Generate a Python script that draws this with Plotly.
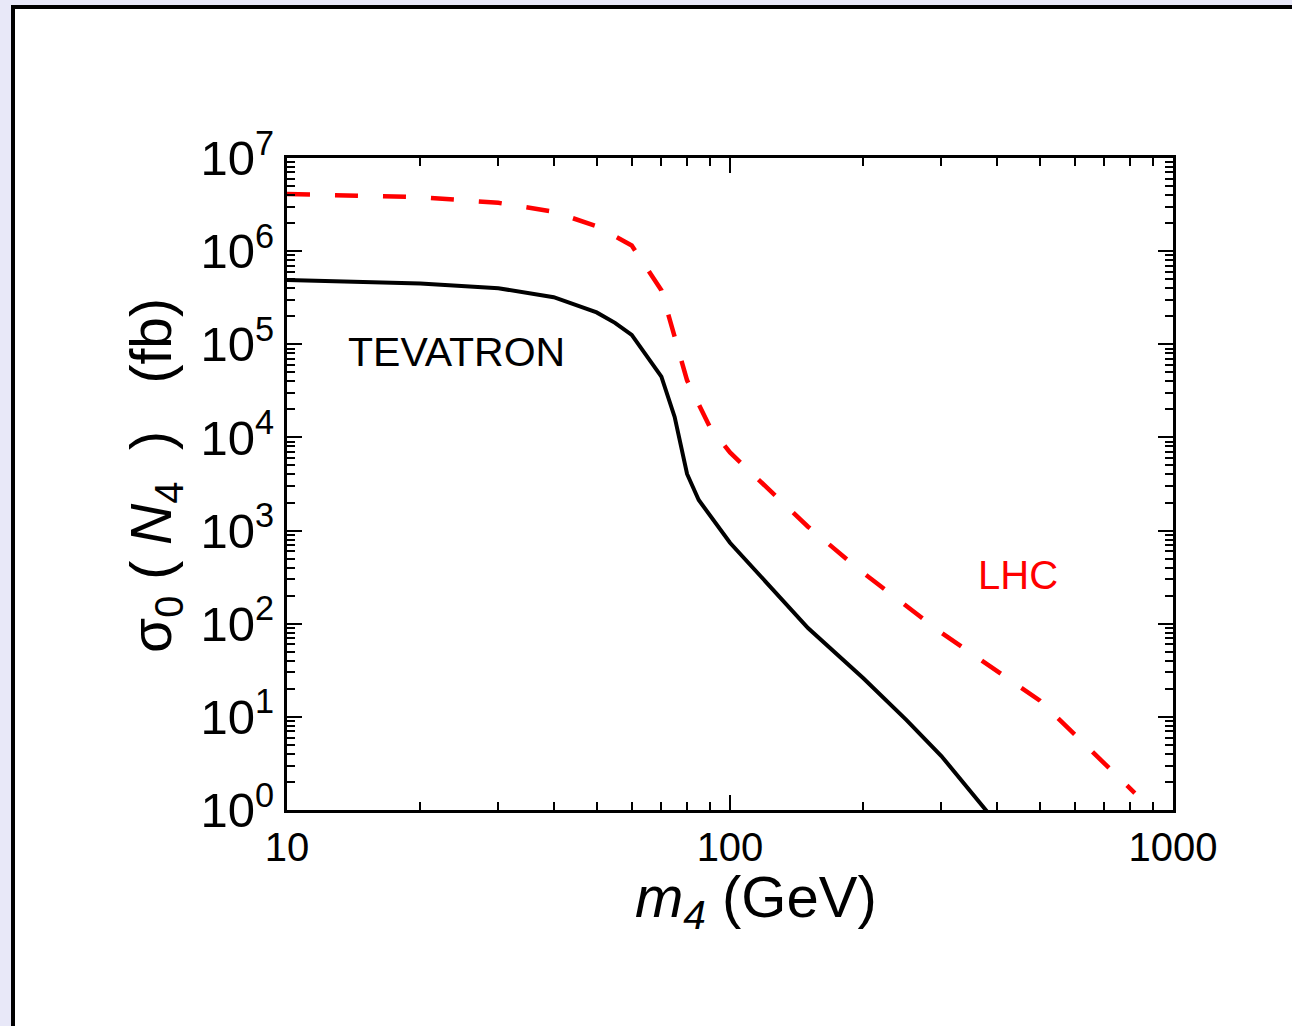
import plotly.graph_objects as go

# ---- data ----
tev_mass = [10, 20, 30, 40, 50, 55, 60, 70, 75, 80, 85, 100, 150, 200, 250, 300, 400]
tev_sigma = [4.9e5, 4.5e5, 4.0e5, 3.2e5, 2.2e5, 1.7e5, 1.26e5, 4.5e4, 1.66e4, 4.05e3, 2.13e3,
             7.4e2, 90, 26, 9.3, 3.8, 0.72]

lhc_mass = [10, 15, 20, 30, 40, 50, 60, 70, 75, 80, 90, 100, 150, 200, 300, 500, 820]
lhc_sigma = [4.1e6, 3.95e6, 3.8e6, 3.3e6, 2.65e6, 1.85e6, 1.15e6, 3.8e5, 1.25e5, 4.1e4, 1.3e4,
             6.9e3, 1.1e3, 350, 80, 15, 1.52]

x_major = [10, 100, 1000]
x_major_text = ["10", "100", "1000"]
y_major = [10 ** k for k in range(0, 8)]
y_major_text = ["10<sup>%d</sup>" % k for k in range(0, 8)]
x_minor = [m * 10 ** k for k in (1, 2) for m in range(2, 10)]
y_minor = [m * 10 ** k for k in range(0, 7) for m in range(2, 10)]

FONT = "Liberation Sans, Arial, sans-serif"

fig = go.Figure()
fig.add_trace(go.Scatter(x=tev_mass, y=tev_sigma, mode="lines",
                         line=dict(color="black", width=4), name="TEVATRON"))
fig.add_trace(go.Scatter(x=lhc_mass, y=lhc_sigma, mode="lines",
                         line=dict(color="#ff0000", width=4.5, dash="23px,25px"), name="LHC"))

W, H = 1292, 1026
L, R, T, B = 287, 119, 158, 216
pw, ph = W - L - R, H - T - B

def px(xp):
    return (xp - L) / pw

def py(yp):
    return (H - B - yp) / ph

# page frame: lavender page, black left/top border, white card
shapes = [
    dict(type="rect", xref="paper", yref="paper", x0=px(11), x1=px(1400), y0=py(1100), y1=py(5),
         fillcolor="black", line=dict(width=0), layer="below"),
    dict(type="rect", xref="paper", yref="paper", x0=px(15), x1=px(1400), y0=py(1100), y1=py(9),
         fillcolor="white", line=dict(width=0), layer="below"),
]

axis_common = dict(
    type="log", showgrid=False, zeroline=False,
    showline=True, linecolor="black", linewidth=3, mirror="allticks",
    ticks="inside", ticklen=15, tickwidth=2, tickcolor="black",
    tickmode="array",
)

fig.update_xaxes(**axis_common, range=[1, 3], tickvals=x_major, ticktext=x_major_text,
                 tickfont=dict(family=FONT, size=40, color="black"),
                 minor=dict(ticks="inside", ticklen=8, tickwidth=2, tickcolor="black",
                            tickvals=x_minor, showgrid=False))
fig.update_yaxes(**axis_common, range=[0, 7], tickvals=y_major, ticktext=y_major_text,
                 tickfont=dict(family=FONT, size=49, color="black"),
                 minor=dict(ticks="inside", ticklen=8, tickwidth=2, tickcolor="black",
                            tickvals=y_minor, showgrid=False))

annotations = [
    dict(text="TEVATRON", x=px(456), y=py(352), xref="paper", yref="paper", showarrow=False,
         font=dict(family=FONT, size=41, color="black"), xanchor="center", yanchor="middle"),
    dict(text="LHC", x=px(1018), y=py(575), xref="paper", yref="paper", showarrow=False,
         font=dict(family=FONT, size=40, color="#ff0000"), xanchor="center", yanchor="middle"),
    dict(text="<i>m<sub>4</sub></i> (GeV)", x=px(756), y=py(901), xref="paper", yref="paper",
         showarrow=False, font=dict(family=FONT, size=58, color="black"),
         xanchor="center", yanchor="middle"),
    dict(text="σ<sub>0</sub>\u00a0( <i>N</i><sub>4</sub>\u00a0 )\u00a0\u00a0 (fb)", x=px(155), y=py(476),
         xref="paper", yref="paper", showarrow=False, textangle=-90,
         font=dict(family=FONT, size=57, color="black"), xanchor="center", yanchor="middle"),
]

fig.update_layout(
    width=W, height=H, margin=dict(l=L, r=R, t=T, b=B, pad=0),
    paper_bgcolor="#E8E8F8", plot_bgcolor="white",
    showlegend=False, shapes=shapes, annotations=annotations,
)

fig.write_html("out.html")
